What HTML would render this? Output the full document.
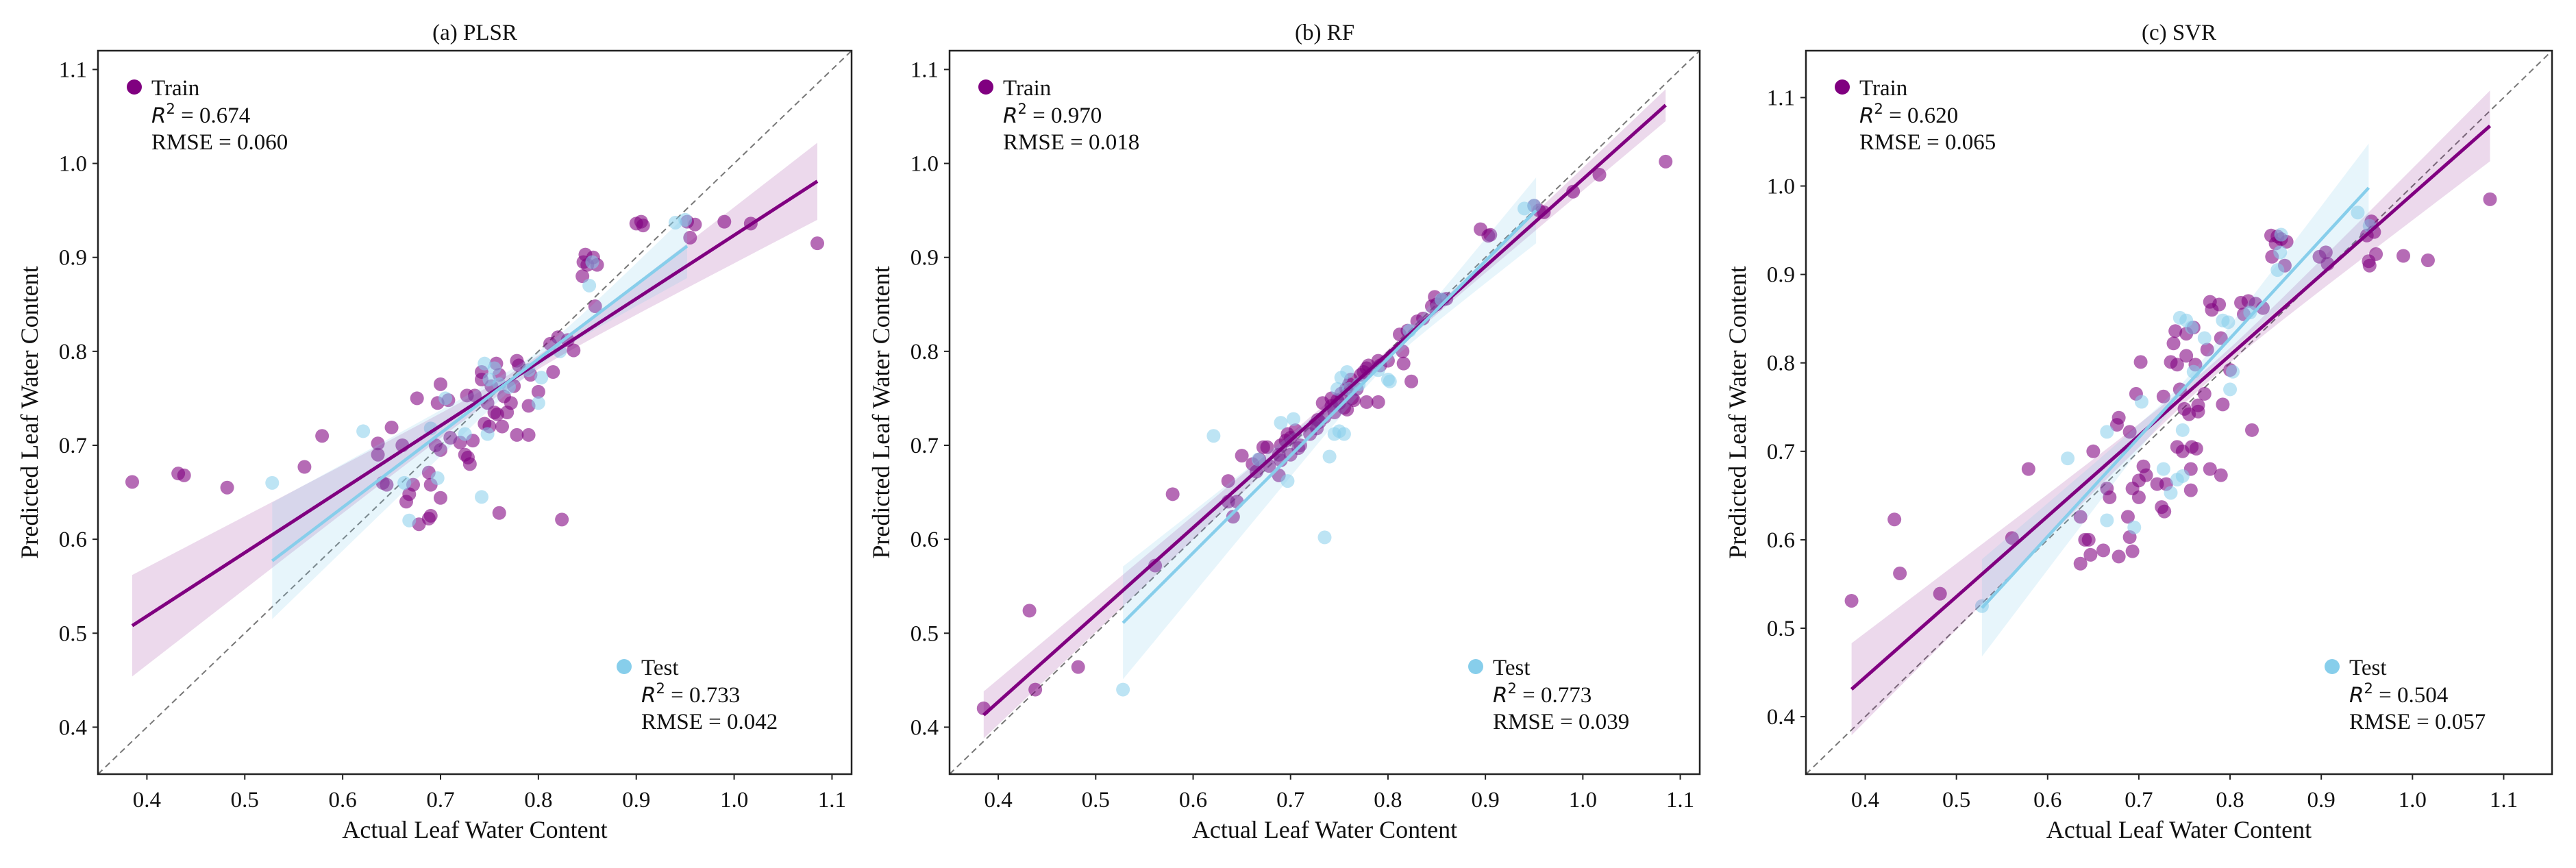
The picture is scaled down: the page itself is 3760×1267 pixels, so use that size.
<!DOCTYPE html>
<html><head><meta charset="utf-8">
<style>
html,body{margin:0;padding:0;background:#fff;}
svg{display:block;font-family:"Liberation Serif",serif;}
</style></head>
<body>
<svg id="chart" width="3760" height="1267" viewBox="0 0 3760 1267" xmlns="http://www.w3.org/2000/svg"></svg>
<script>
// ---------- DATA ----------
const panelTitles = ["(a) PLSR", "(b) RF", "(c) SVR"];
const tickValues = [0.4, 0.5, 0.6, 0.7, 0.8, 0.9, 1.0, 1.1];
const tickLabels = ["0.4", "0.5", "0.6", "0.7", "0.8", "0.9", "1.0", "1.1"];
const trainR2 = ["0.674", "0.970", "0.620"];
const trainRMSE = ["0.060", "0.018", "0.065"];
const testR2 = ["0.733", "0.773", "0.504"];
const testRMSE = ["0.042", "0.039", "0.057"];

const trainA = [[0.385,0.661],[0.432,0.670],[0.438,0.668],[0.482,0.655],[0.561,0.677],[0.579,0.710],[0.636,0.702],[0.636,0.690],[0.641,0.660],[0.650,0.719],[0.645,0.658],[0.661,0.700],[0.665,0.640],[0.668,0.648],[0.672,0.658],[0.676,0.750],[0.678,0.616],[0.688,0.622],[0.690,0.625],[0.688,0.671],[0.690,0.658],[0.695,0.700],[0.697,0.745],[0.700,0.765],[0.700,0.695],[0.700,0.644],[0.708,0.748],[0.710,0.708],[0.720,0.703],[0.725,0.690],[0.727,0.753],[0.728,0.687],[0.730,0.680],[0.733,0.705],[0.735,0.753],[0.742,0.770],[0.742,0.778],[0.745,0.723],[0.748,0.745],[0.750,0.720],[0.752,0.763],[0.755,0.735],[0.757,0.787],[0.758,0.733],[0.760,0.775],[0.760,0.628],[0.763,0.720],[0.765,0.752],[0.768,0.735],[0.772,0.745],[0.775,0.763],[0.778,0.711],[0.778,0.790],[0.780,0.785],[0.790,0.742],[0.790,0.711],[0.792,0.775],[0.800,0.757],[0.812,0.808],[0.815,0.778],[0.820,0.815],[0.824,0.621],[0.830,0.812],[0.836,0.801],[0.845,0.880],[0.846,0.895],[0.848,0.903],[0.850,0.892],[0.856,0.900],[0.858,0.848],[0.860,0.892],[0.900,0.936],[0.905,0.938],[0.907,0.934],[0.952,0.938],[0.955,0.921],[0.960,0.935],[0.990,0.938],[1.017,0.936],[1.085,0.915]];
const testA = [[0.528,0.660],[0.621,0.715],[0.663,0.660],[0.668,0.620],[0.690,0.718],[0.697,0.665],[0.705,0.750],[0.725,0.712],[0.742,0.645],[0.745,0.787],[0.748,0.712],[0.750,0.770],[0.755,0.782],[0.760,0.765],[0.770,0.762],[0.790,0.780],[0.800,0.745],[0.803,0.772],[0.822,0.800],[0.852,0.870],[0.855,0.895],[0.940,0.937],[0.950,0.940]];

const trainB = [[0.385,0.420],[0.432,0.524],[0.438,0.440],[0.482,0.464],[0.561,0.572],[0.579,0.648],[0.636,0.662],[0.636,0.640],[0.641,0.624],[0.650,0.689],[0.645,0.640],[0.661,0.680],[0.665,0.672],[0.668,0.685],[0.672,0.698],[0.676,0.698],[0.678,0.678],[0.688,0.668],[0.690,0.700],[0.688,0.690],[0.690,0.684],[0.695,0.705],[0.697,0.712],[0.700,0.690],[0.700,0.708],[0.705,0.716],[0.708,0.697],[0.710,0.700],[0.720,0.712],[0.725,0.722],[0.727,0.718],[0.728,0.727],[0.730,0.725],[0.733,0.745],[0.735,0.730],[0.742,0.750],[0.742,0.742],[0.745,0.735],[0.748,0.748],[0.750,0.745],[0.752,0.755],[0.755,0.740],[0.757,0.760],[0.758,0.738],[0.760,0.765],[0.762,0.770],[0.763,0.750],[0.765,0.748],[0.768,0.760],[0.772,0.775],[0.775,0.778],[0.778,0.746],[0.778,0.782],[0.780,0.785],[0.790,0.746],[0.790,0.790],[0.792,0.785],[0.800,0.790],[0.812,0.818],[0.815,0.800],[0.816,0.787],[0.820,0.822],[0.824,0.768],[0.830,0.832],[0.836,0.835],[0.845,0.848],[0.848,0.858],[0.850,0.850],[0.856,0.855],[0.860,0.856],[0.895,0.930],[0.903,0.923],[0.905,0.924],[0.950,0.955],[0.955,0.950],[0.960,0.948],[0.990,0.970],[1.017,0.988],[1.085,1.002]];
const testB = [[0.528,0.440],[0.621,0.710],[0.667,0.685],[0.690,0.724],[0.697,0.662],[0.703,0.728],[0.735,0.602],[0.740,0.688],[0.745,0.712],[0.748,0.760],[0.750,0.715],[0.752,0.772],[0.755,0.712],[0.758,0.778],[0.760,0.760],[0.770,0.765],[0.790,0.780],[0.800,0.770],[0.802,0.768],[0.822,0.822],[0.855,0.855],[0.940,0.952],[0.950,0.955]];

const trainC = [[0.385,0.531],[0.432,0.623],[0.438,0.562],[0.482,0.539],[0.561,0.602],[0.579,0.680],[0.636,0.573],[0.636,0.626],[0.641,0.600],[0.645,0.600],[0.650,0.700],[0.647,0.583],[0.661,0.588],[0.665,0.658],[0.668,0.648],[0.676,0.730],[0.678,0.738],[0.678,0.581],[0.688,0.626],[0.690,0.603],[0.690,0.722],[0.693,0.658],[0.693,0.587],[0.697,0.765],[0.700,0.648],[0.700,0.667],[0.702,0.801],[0.705,0.683],[0.708,0.673],[0.720,0.663],[0.725,0.637],[0.728,0.632],[0.730,0.663],[0.727,0.762],[0.735,0.801],[0.738,0.822],[0.740,0.836],[0.742,0.798],[0.742,0.705],[0.745,0.770],[0.748,0.700],[0.750,0.748],[0.752,0.833],[0.752,0.808],[0.755,0.742],[0.757,0.656],[0.757,0.680],[0.758,0.705],[0.760,0.840],[0.762,0.798],[0.763,0.703],[0.765,0.752],[0.765,0.745],[0.772,0.765],[0.775,0.815],[0.778,0.680],[0.778,0.869],[0.780,0.860],[0.788,0.866],[0.790,0.673],[0.790,0.828],[0.792,0.753],[0.800,0.792],[0.812,0.868],[0.815,0.855],[0.820,0.870],[0.824,0.724],[0.828,0.867],[0.836,0.862],[0.845,0.944],[0.846,0.920],[0.850,0.935],[0.852,0.943],[0.856,0.940],[0.860,0.910],[0.862,0.937],[0.898,0.920],[0.905,0.925],[0.907,0.912],[0.950,0.944],[0.952,0.915],[0.953,0.910],[0.955,0.960],[0.958,0.948],[0.960,0.923],[0.990,0.921],[1.017,0.916],[1.085,0.985]];
const testC = [[0.528,0.525],[0.622,0.692],[0.665,0.622],[0.665,0.722],[0.695,0.614],[0.703,0.756],[0.727,0.680],[0.735,0.653],[0.742,0.668],[0.748,0.672],[0.748,0.724],[0.745,0.851],[0.752,0.848],[0.758,0.840],[0.760,0.790],[0.772,0.828],[0.792,0.848],[0.798,0.846],[0.800,0.770],[0.803,0.790],[0.822,0.857],[0.852,0.905],[0.856,0.945],[0.855,0.925],[0.940,0.970],[0.953,0.955]];

// fitted regression lines: [x0, y0, x1, y1]
const trainFitA = [0.385, 0.508, 1.085, 0.981];
const testFitA = [0.528, 0.577, 0.952, 0.912];
const trainFitB = [0.385, 0.413, 1.085, 1.062];
const testFitB = [0.528, 0.511, 0.952, 0.950];
const trainFitC = [0.385, 0.431, 1.085, 1.068];
const testFitC = [0.528, 0.523, 0.952, 0.998];
// confidence band half-widths at left end, minimum (centre), right end
const trainBandA = [0.054, 0.007, 0.041];
const testBandA = [0.062, 0.008, 0.034];
const trainBandB = [0.025, 0.004, 0.017];
const testBandB = [0.060, 0.006, 0.035];
const trainBandC = [0.052, 0.008, 0.040];
const testBandC = [0.055, 0.008, 0.050];

// ---------- LAYOUT ----------
const panels = [
  {title:panelTitles[0], L:143, R:1243, T:74, B:1130, min:0.35, max:1.12, train:trainA, test:testA, trFit:trainFitA, teFit:testFitA, trBand:trainBandA, teBand:testBandA, k:0},
  {title:panelTitles[1], L:1386, R:2481, T:74, B:1130, min:0.35, max:1.12, train:trainB, test:testB, trFit:trainFitB, teFit:testFitB, trBand:trainBandB, teBand:testBandB, k:1},
  {title:panelTitles[2], L:2636, R:3725, T:74, B:1130, min:0.335, max:1.153, train:trainC, test:testC, trFit:trainFitC, teFit:testFitC, trBand:trainBandC, teBand:testBandC, k:2}
];
const NS = "http://www.w3.org/2000/svg";
const svg = document.getElementById('chart');
function mk(tag, attrs, parent, text){
  const e = document.createElementNS(NS, tag);
  for (const a in attrs) e.setAttribute(a, attrs[a]);
  if (text !== undefined) e.textContent = text;
  parent.appendChild(e);
  return e;
}
function bandPath(fit, band, sx, sy){
  const [x0,y0,x1,y1] = fit;
  const n = 40, pts = [];
  // hyperbolic CI: hw = sqrt(a + b (x-xm)^2)
  const hL = band[0], hM = band[1], hR = band[2];
  // choose xm so that shape fits both ends
  const dL2 = hL*hL - hM*hM, dR2 = hR*hR - hM*hM;
  const rL = Math.sqrt(dL2), rR = Math.sqrt(dR2);
  const xm = x0 + (x1-x0)*rL/(rL+rR);
  const b = dL2/((xm-x0)*(xm-x0));
  const hw = x => Math.sqrt(hM*hM + b*(x-xm)*(x-xm));
  const yl = x => y0 + (y1-y0)*(x-x0)/(x1-x0);
  const up = [], lo = [];
  for (let i=0;i<=n;i++){ const x = x0+(x1-x0)*i/n; up.push([sx(x), sy(yl(x)+hw(x))]); lo.push([sx(x), sy(yl(x)-hw(x))]); }
  const all = up.concat(lo.reverse());
  return 'M' + all.map(p=>p[0].toFixed(1)+','+p[1].toFixed(1)).join('L') + 'Z';
}

panels.forEach(p => {
  const sx = v => p.L + (v - p.min)/(p.max - p.min)*(p.R - p.L);
  const sy = v => p.B - (v - p.min)/(p.max - p.min)*(p.B - p.T);
  const g = mk('g', {}, svg);
  
  
  const cx = (p.L + p.R)/2;
  const t = mk('text', {x:cx, y:58, 'text-anchor':'middle', 'font-size':33, fill:'#111'}, g, p.title);
  
  

  const clipId = 'clip' + p.k;
  const cp = mk('clipPath', {id:clipId}, g);
  mk('rect', {x:p.L, y:p.T, width:p.R-p.L, height:p.B-p.T}, cp);
  const plot = mk('g', {'clip-path':'url(#'+clipId+')'}, g);
  
  

  // diagonal 1:1
  const d = mk('line', {x1:sx(p.min), y1:sy(p.min), x2:sx(p.max), y2:sy(p.max), stroke:'#777', 'stroke-width':2, 'stroke-dasharray':'9,6'}, plot);
  
  

  // points
  p.train.forEach(pt => {
    const c = mk('circle', {cx:sx(pt[0]), cy:sy(pt[1]), r:10, fill:'#800080', 'fill-opacity':0.58}, plot);
    
    
  });
  p.test.forEach(pt => {
    const c = mk('circle', {cx:sx(pt[0]), cy:sy(pt[1]), r:10, fill:'#87CEEB', 'fill-opacity':0.55}, plot);
    
    
  });
  // bands
  const b1 = mk('path', {d:bandPath(p.trFit, p.trBand, sx, sy), fill:'#800080', 'fill-opacity':0.15}, plot);
  
  
  const b2 = mk('path', {d:bandPath(p.teFit, p.teBand, sx, sy), fill:'#87CEEB', 'fill-opacity':0.2}, plot);
  
  
  // fit lines
  const l1 = mk('line', {x1:sx(p.trFit[0]), y1:sy(p.trFit[1]), x2:sx(p.trFit[2]), y2:sy(p.trFit[3]), stroke:'#800080', 'stroke-width':5}, plot);
  
  
  const l2 = mk('line', {x1:sx(p.teFit[0]), y1:sy(p.teFit[1]), x2:sx(p.teFit[2]), y2:sy(p.teFit[3]), stroke:'#87CEEB', 'stroke-width':4.5}, plot);
  
  

  // frame
  const fr = mk('rect', {x:p.L, y:p.T, width:p.R-p.L, height:p.B-p.T, fill:'none', stroke:'#222', 'stroke-width':2.5}, g);
  
  

  // ticks
  tickValues.forEach((v, i) => {
    const X = sx(v), Y = sy(v);
    mk('line', {x1:X, y1:p.B, x2:X, y2:p.B+8, stroke:'#222', 'stroke-width':2}, g);
    const xt = mk('text', {x:X, y:p.B+48, 'text-anchor':'middle', 'font-size':33, fill:'#111'}, g, tickLabels[i]);
    
    
    mk('line', {x1:p.L-8, y1:Y, x2:p.L, y2:Y, stroke:'#222', 'stroke-width':2}, g);
    const yt = mk('text', {x:p.L-16, y:Y+11, 'text-anchor':'end', 'font-size':33, fill:'#111'}, g, tickLabels[i]);
    
    
  });
  const xl = mk('text', {x:cx, y:1223, 'text-anchor':'middle', 'font-size':36, fill:'#111'}, g, 'Actual Leaf Water Content');
  
  
  const yc = (p.T + p.B)/2, yx = p.L - 88;
  const yl = mk('text', {x:yx, y:yc, 'text-anchor':'middle', 'font-size':36, fill:'#111', transform:'rotate(-90 '+yx+' '+yc+')'}, g, 'Predicted Leaf Water Content');
  
  

  // legends
  function legend(mx, my, color, label, r2, rmse, name){
    const lg = mk('g', {}, g);
    
    
    mk('circle', {cx:mx, cy:my, r:11, fill:color}, lg);
    mk('text', {x:mx+25, y:my+12, 'font-size':33, fill:'#111'}, lg, label);
    const r = mk('text', {x:mx+25, y:my+52, 'font-size':33, fill:'#111'}, lg);
    mk('tspan', {'font-family':'DejaVu Sans, sans-serif', 'font-style':'italic', 'font-size':31}, r, 'R');
    mk('tspan', {'font-family':'DejaVu Sans, sans-serif', 'font-size':21, dy:-13}, r, '2');
    mk('tspan', {dy:13}, r, ' = ' + r2);
    mk('text', {x:mx+25, y:my+91, 'font-size':33, fill:'#111'}, lg, 'RMSE = ' + rmse);
  }
  legend(p.L+53, p.T+53, '#800080', 'Train', trainR2[p.k], trainRMSE[p.k], 'train-legend');
  legend(p.L+768, p.B-157, '#87CEEB', 'Test', testR2[p.k], testRMSE[p.k], 'test-legend');
});
</script>
</body></html>
